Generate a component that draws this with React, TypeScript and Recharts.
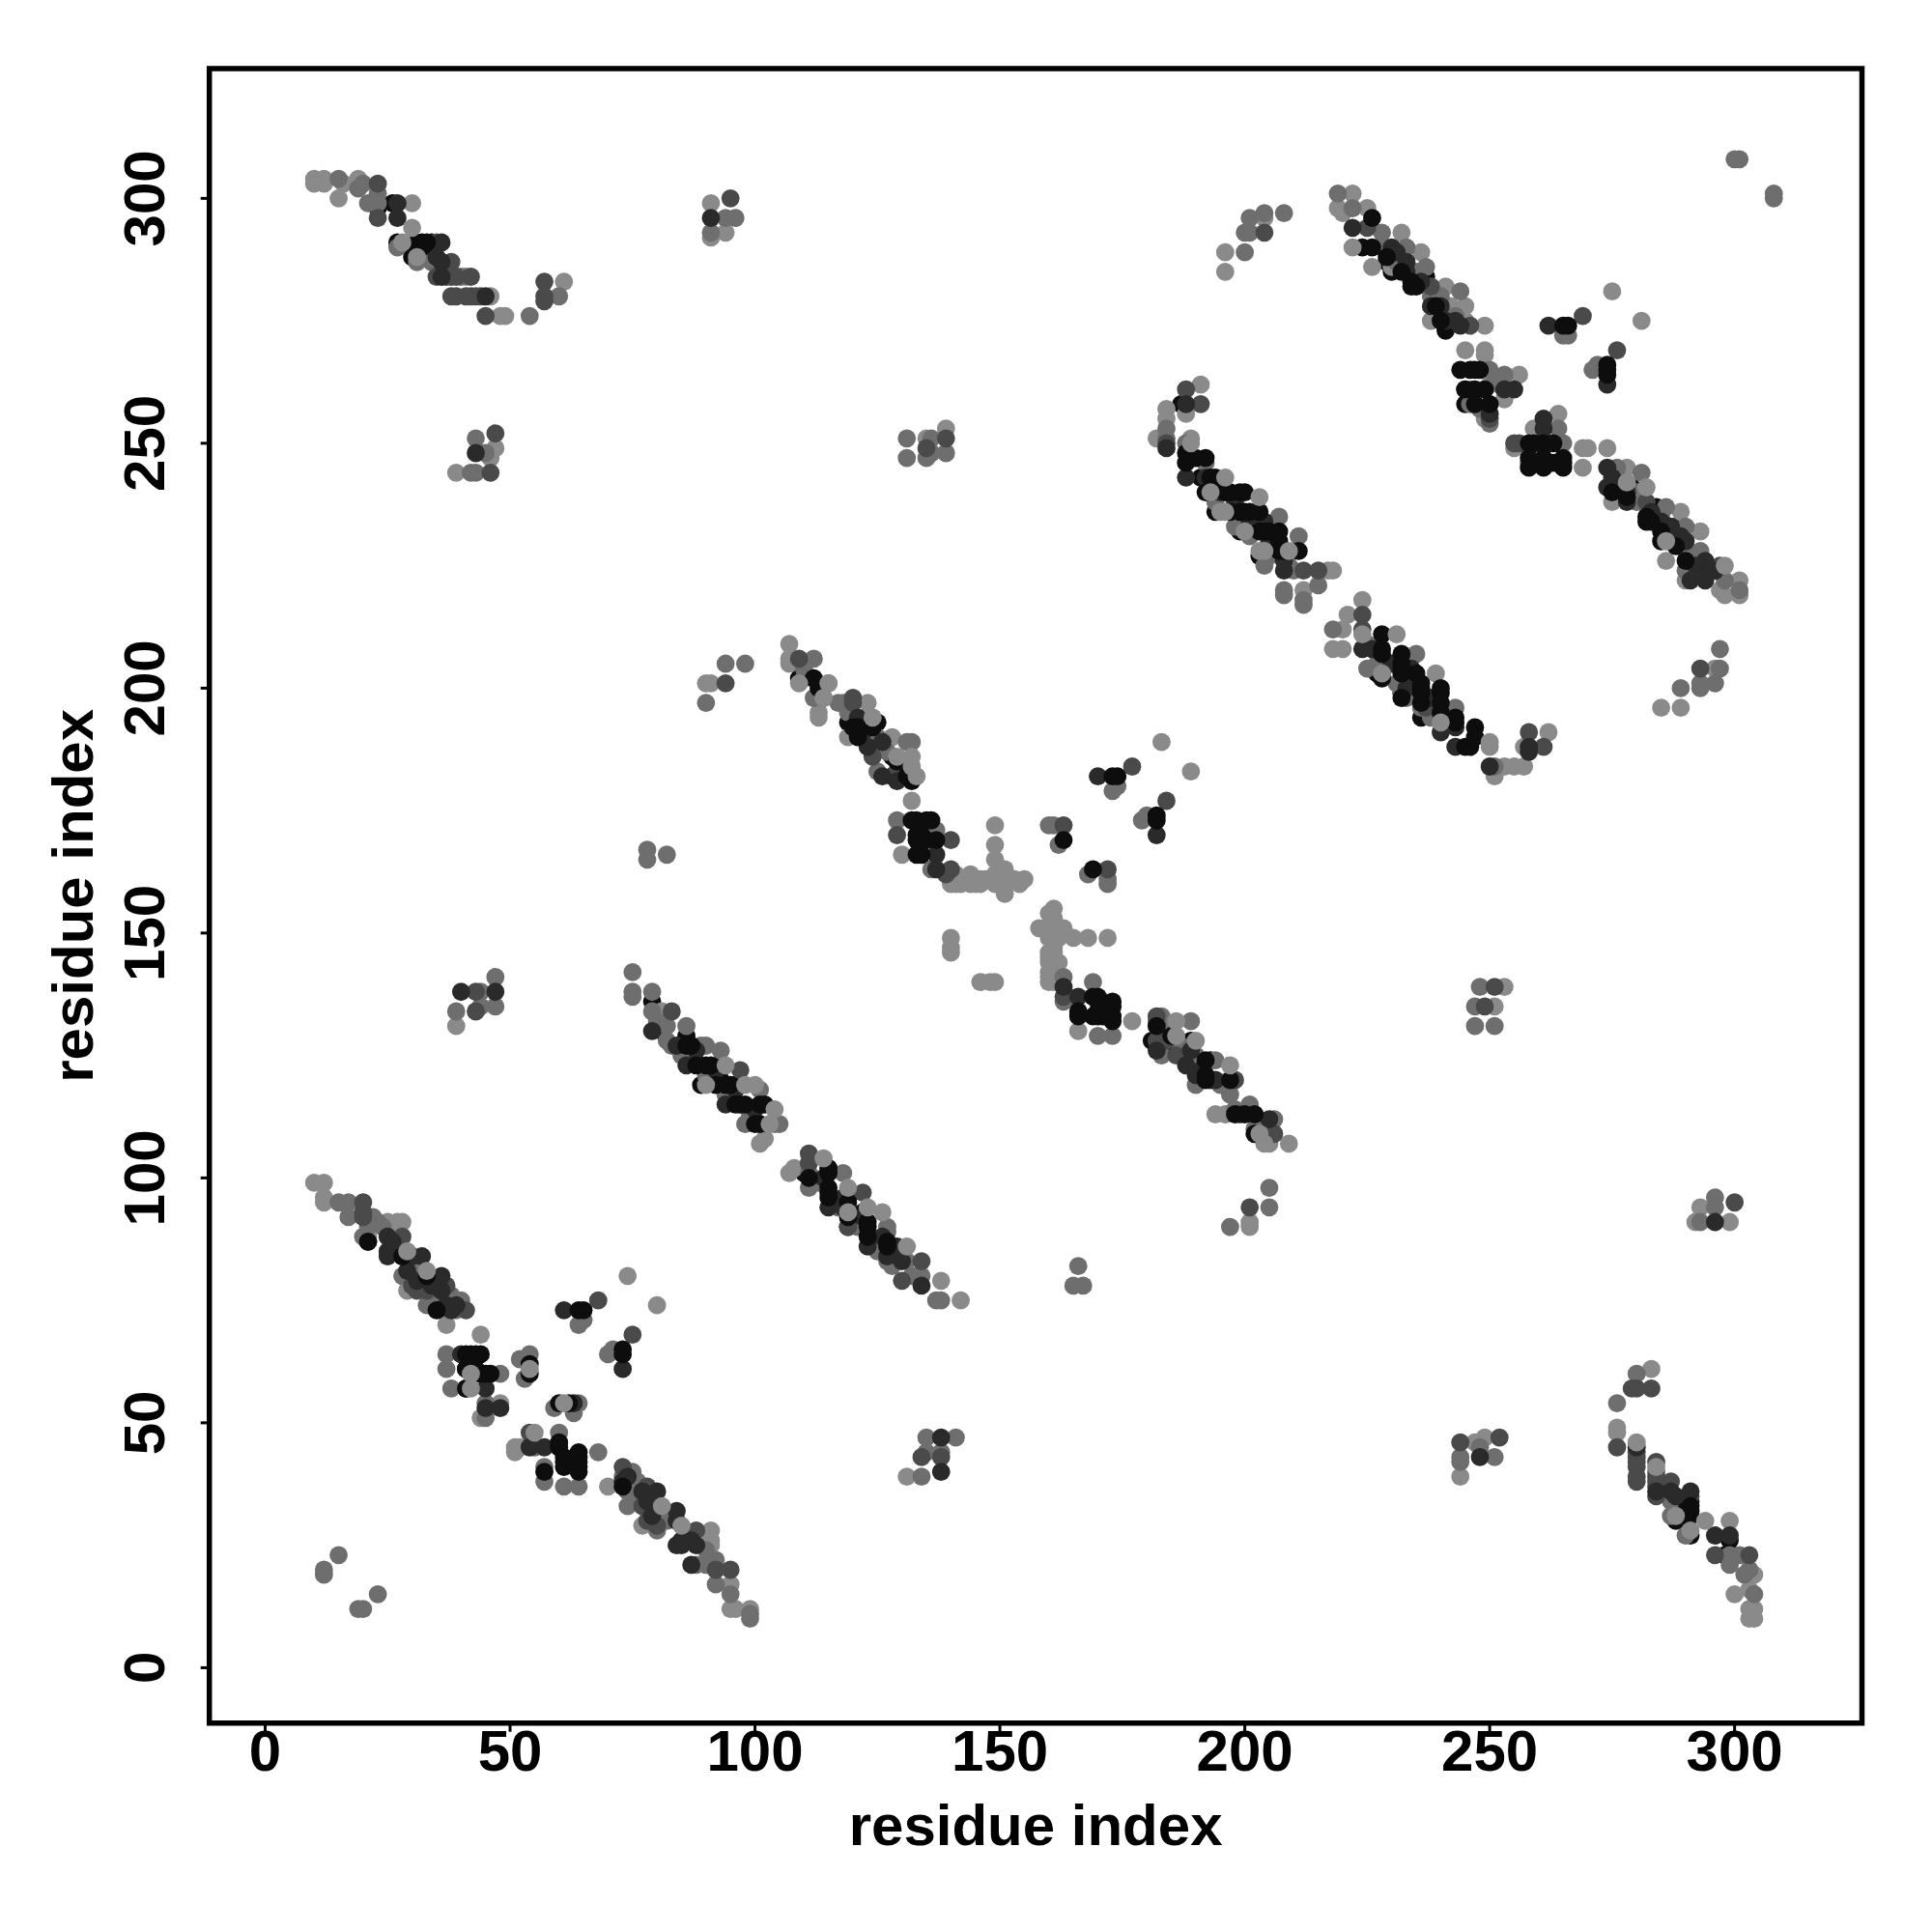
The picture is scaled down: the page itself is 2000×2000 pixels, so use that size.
import { ReferenceArea, Scatter, ScatterChart, XAxis, YAxis } from 'recharts'

type Pair = [number, number]

const TICKS = [0, 50, 100, 150, 200, 250, 300]
const X_RANGE: Pair = [-11.4, 326]
const Y_RANGE: Pair = [-11.3, 326.5]

// contact pairs, one list per grey level (back to front)
const blackUnder: Pair[] = [
  [23, 298], [26, 299], [27, 291], [30, 288], [34, 291], [298, 23], [299, 26], [291, 27], [288, 30], [291, 34],
  [79, 136], [81, 130], [86, 129], [89, 123], [93, 123], [89, 119], [93, 120], [96, 119], [110, 101], [119, 96],
  [122, 93], [119, 90], [109, 202], [187, 258], [194, 240], [191, 243], [194, 236], [199, 232], [204, 228], [203, 227],
  [236, 194], [232, 199], [228, 204], [227, 203], [224, 290], [230, 285], [234, 282], [237, 284], [241, 273], [229, 287],
  [284, 237], [279, 241], [288, 233], [285, 230], [244, 265], [245, 261], [245, 258], [181, 128], [186, 127], [189, 128],
  [193, 124], [128, 186], [128, 182], [119, 193], [125, 193], [41, 57], [41, 61], [36, 73], [21, 87], [28, 84],
]

const lightGrey: Pair[] = [
  [10, 304], [10, 303], [12, 304], [12, 303], [16, 303], [15, 300], [19, 304], [30, 299], [41, 284], [46, 280],
  [48, 276], [49, 276], [61, 283],
  [304, 10], [303, 10], [304, 12], [303, 12], [303, 16], [300, 15], [304, 19], [299, 30], [276, 48], [276, 49], [283, 61],
  [196, 285], [196, 289], [204, 296], [285, 196], [289, 196], [296, 204],
  [222, 301], [219, 298], [225, 298], [220, 297], [232, 293], [222, 290], [236, 289], [230, 286], [226, 286], [241, 282],
  [242, 278], [245, 278], [238, 275], [245, 275], [249, 274],
  [278, 245], [275, 238], [289, 236], [293, 232], [286, 226], [290, 222],
  [301, 222], [297, 220], [298, 219], [301, 219], [274, 249],
  [245, 269], [249, 269], [249, 268], [256, 264], [246, 261], [250, 262], [253, 259], [249, 255],
  [264, 256], [255, 249], [262, 250], [269, 249], [270, 249], [269, 245], [261, 246], [259, 253],
  [275, 281], [281, 275],
  [191, 262], [188, 256], [184, 257], [184, 255], [182, 251], [189, 251], [217, 224], [218, 224], [212, 220],
  [224, 218], [221, 215], [220, 212], [218, 208], [220, 208], [239, 203],
  [253, 184], [255, 184], [257, 184], [251, 182], [262, 191], [257, 188],
  [107, 209], [107, 206], [107, 205], [113, 195], [113, 194], [123, 197], [128, 190], [119, 190],
  [197, 119], [194, 113], [196, 113], [205, 107], [209, 107],
  [132, 177], [130, 166], [166, 130], [177, 132],
  [140, 161], [140, 160], [141, 162], [141, 161], [141, 160], [142, 161], [142, 160], [144, 162], [144, 160], [145, 161],
  [145, 160], [146, 161], [146, 160], [147, 161], [149, 172], [149, 168], [149, 165], [149, 162], [149, 160], [151, 163],
  [151, 160], [151, 158], [154, 160], [155, 161], [153, 161], [150, 161],
  [161, 140], [160, 140], [162, 141], [161, 141], [160, 141], [161, 142], [160, 142], [162, 144], [160, 144], [161, 145],
  [160, 145], [161, 146], [160, 146], [161, 147], [172, 149], [168, 149], [165, 149], [162, 149], [160, 149], [163, 151],
  [160, 151], [158, 151], [160, 154], [161, 155], [161, 153], [161, 150],
  [140, 149], [140, 147], [140, 146], [146, 140], [148, 140], [149, 140],
  [183, 189], [189, 183], [74, 80], [80, 74],
  [81, 134], [101, 107], [102, 108],
  [107, 101], [108, 102], [138, 79], [142, 75],
  [10, 99], [12, 99], [12, 95], [12, 96], [25, 91], [27, 91], [28, 91], [21, 88], [29, 77], [37, 70],
  [44, 68], [44, 51], [48, 54],
  [95, 17], [95, 12], [96, 12], [91, 28], [91, 26], [91, 25], [77, 29], [70, 37], [99, 12],
  [51, 45], [51, 44], [52, 45],
  [91, 299], [91, 292], [94, 293], [299, 91], [292, 91], [293, 94],
  [39, 244], [46, 247], [47, 249], [244, 39], [247, 46], [249, 47],
  [135, 251], [139, 253], [251, 135], [253, 139],
  [39, 131], [131, 39], [90, 201], [91, 201], [201, 90], [201, 91],
]

const midGrey: Pair[] = [
  [15, 304], [19, 302], [20, 303], [23, 301], [21, 299], [23, 299], [27, 290], [34, 287], [31, 287], [54, 276], [60, 280],
  [31, 290], [34, 288], [35, 287], [40, 284],
  [304, 15], [302, 19], [303, 20], [301, 23], [299, 21], [299, 23], [290, 27], [287, 34], [287, 31], [276, 54], [280, 60],
  [290, 31], [288, 34], [287, 35], [284, 40],
  [200, 289], [200, 293], [201, 293], [201, 296], [204, 297], [208, 297], [289, 200], [293, 200], [293, 201], [296, 201],
  [297, 204], [297, 208],
  [219, 301], [222, 298], [228, 293], [233, 290], [237, 286], [244, 281], [228, 290], [231, 287], [235, 285], [238, 280],
  [240, 280], [243, 276],
  [301, 220], [298, 222], [293, 228], [290, 224], [290, 233], [286, 237], [281, 244], [276, 245], [290, 228], [287, 231],
  [285, 235], [280, 238], [280, 240], [276, 243],
  [250, 265], [253, 264], [246, 258], [250, 254], [252, 262], [251, 263], [248, 257],
  [264, 253], [265, 250], [258, 246], [264, 250], [266, 272], [265, 272], [272, 266], [271, 265],
  [184, 253], [184, 251], [188, 250], [192, 246], [207, 235], [211, 231], [210, 224], [208, 220], [208, 219], [212, 218],
  [212, 217], [215, 221], [204, 225], [198, 233], [201, 231], [205, 227], [194, 238], [209, 225],
  [218, 212], [235, 207], [243, 196], [236, 196], [251, 184], [232, 199], [225, 204], [233, 198], [231, 201], [227, 205],
  [238, 194], [225, 209],
  [112, 206], [115, 201], [112, 198], [114, 198], [118, 197], [124, 194], [125, 190], [132, 189], [131, 189], [125, 183],
  [110, 204], [110, 202], [117, 197], [119, 195], [123, 191], [127, 187], [130, 184],
  [182, 132], [183, 133], [189, 132], [183, 125], [190, 125], [189, 125], [194, 124], [198, 114], [201, 115], [206, 112],
  [190, 119], [204, 110], [202, 110], [197, 117], [195, 119], [191, 123], [187, 127], [184, 130],
  [137, 171], [136, 163], [129, 173], [163, 141], [164, 137], [163, 136], [169, 140], [171, 136], [170, 129], [173, 129],
  [161, 172], [162, 168], [168, 162], [172, 161], [172, 160], [160, 172],
  [173, 179], [174, 180], [180, 174], [179, 173], [64, 70], [65, 71], [71, 65], [70, 64],
  [75, 142], [75, 138], [75, 137], [79, 138], [79, 134], [86, 131], [89, 127], [90, 127], [93, 126], [83, 127], [82, 131],
  [98, 111], [104, 111], [105, 111], [101, 118], [85, 125], [90, 121], [94, 117], [99, 113], [80, 132], [82, 128], [87, 124],
  [111, 98], [111, 101], [118, 101], [127, 90], [127, 89], [131, 83], [134, 80], [137, 75], [138, 75], [127, 83],
  [125, 85], [121, 90], [117, 94], [113, 99], [132, 80], [128, 82], [124, 87],
  [15, 95], [17, 95], [17, 92], [23, 91], [20, 88], [28, 80], [33, 74], [40, 75], [37, 64], [37, 61], [38, 57], [45, 51],
  [45, 54], [48, 60], [22, 92], [24, 90], [21, 90], [30, 82], [31, 80], [34, 79], [35, 75], [38, 76], [39, 73],
  [99, 10], [99, 11], [92, 17], [95, 15], [91, 21], [88, 21], [80, 28], [75, 40], [74, 33], [74, 36], [61, 37], [64, 37],
  [57, 38], [57, 41], [68, 44], [55, 45], [60, 48], [92, 22], [90, 24], [90, 21], [82, 30], [80, 31], [79, 34], [75, 35],
  [76, 38], [73, 39],
  [52, 63], [54, 64], [53, 59], [63, 52], [64, 54], [59, 53],
  [12, 19], [12, 20], [19, 12], [20, 12], [15, 23], [23, 15],
  [94, 296], [96, 296], [91, 293], [296, 94], [296, 96], [293, 91],
  [42, 244], [43, 244], [43, 251], [45, 248], [244, 42], [244, 43], [251, 43], [248, 45],
  [131, 251], [131, 247], [135, 247], [139, 248], [136, 248], [136, 251], [251, 131], [247, 131], [247, 135], [248, 139],
  [39, 134], [47, 141], [47, 135], [44, 135], [44, 138], [134, 39], [141, 47], [135, 47], [135, 44], [138, 44],
  [78, 167], [78, 165], [82, 166], [167, 78], [165, 78], [166, 82],
  [90, 197], [94, 205], [98, 205], [197, 90], [205, 94], [205, 98],
  [300, 308], [301, 308], [308, 301], [308, 300],
]

const darkGrey: Pair[] = [
  [23, 303], [23, 296], [35, 291], [38, 287], [35, 284], [38, 284], [42, 284], [38, 280], [41, 280], [42, 280], [45, 276],
  [57, 283], [57, 280], [57, 279], [37, 284], [39, 284], [39, 280], [43, 280], [44, 280],
  [303, 23], [296, 23], [291, 35], [287, 38], [284, 35], [284, 38], [284, 42], [280, 38], [280, 41], [280, 42], [276, 45],
  [283, 57], [280, 57], [279, 57], [284, 37], [284, 39], [280, 39], [280, 43], [280, 44],
  [204, 293], [293, 204], [225, 294], [238, 282], [246, 274], [282, 238], [297, 225], [288, 230],
  [250, 255], [256, 250], [255, 250], [269, 276], [276, 269],
  [188, 261], [191, 258], [212, 224], [215, 224], [184, 250],
  [224, 212], [224, 215], [237, 196], [258, 191], [261, 188],
  [109, 206], [120, 198], [120, 197], [124, 186], [129, 183],
  [182, 133], [182, 128], [184, 128], [186, 125], [198, 120], [199, 113], [206, 109],
  [129, 170], [140, 169], [140, 163], [139, 162], [163, 137],
  [163, 172], [172, 163], [177, 184], [184, 177], [68, 75], [75, 68],
  [83, 134], [97, 122], [111, 105], [111, 103], [122, 97], [134, 83], [119, 90], [130, 79],
  [20, 95], [20, 93], [20, 92], [28, 88], [33, 77], [31, 77], [41, 73], [27, 86], [30, 78], [33, 78], [37, 78],
  [95, 20], [92, 20], [88, 28], [73, 41], [77, 33], [80, 29], [54, 48], [86, 27], [78, 30], [78, 33], [78, 37],
  [95, 300], [300, 95], [47, 252], [46, 244], [252, 47], [244, 46], [135, 249], [139, 251], [249, 135], [251, 139],
  [43, 134], [134, 43], [43, 138], [138, 43], [94, 201], [201, 94],
]

const nearBlack: Pair[] = [
  [27, 299], [27, 296], [35, 288], [45, 280], [299, 27], [296, 27], [288, 35], [280, 45],
  [36, 287], [36, 284], [36, 291], [287, 36], [284, 36], [291, 36],
  [222, 294], [230, 290], [230, 289], [233, 285], [238, 278], [241, 275], [244, 274], [231, 289], [233, 287], [236, 283],
  [240, 278], [243, 275],
  [274, 245], [274, 241], [278, 238], [285, 234], [290, 230], [294, 226], [294, 224], [294, 222], [289, 231], [287, 233],
  [283, 236], [278, 240], [275, 243], [291, 222], [296, 224], [292, 225],
  [253, 261], [255, 261], [250, 256], [261, 255], [261, 253], [262, 274], [274, 262],
  [188, 258], [184, 249], [188, 243], [192, 243], [208, 224], [195, 240], [198, 238], [201, 234], [205, 230], [208, 226],
  [204, 234],
  [224, 208], [233, 200], [240, 191], [243, 192], [243, 188], [250, 184], [258, 188], [258, 187], [240, 195], [238, 198],
  [234, 201], [230, 205], [226, 208], [234, 204],
  [121, 194], [129, 181], [121, 193], [122, 191], [126, 189], [123, 188], [126, 182],
  [194, 120], [193, 120], [190, 121], [205, 112], [191, 122], [189, 126], [188, 123], [182, 126],
  [137, 166], [137, 163], [163, 139], [166, 137], [170, 182], [182, 170], [61, 73], [73, 61],
  [79, 130], [86, 123], [94, 115], [84, 127], [88, 126], [92, 122], [96, 118], [100, 114],
  [115, 94], [123, 86], [118, 94], [129, 86], [130, 83], [134, 78], [127, 84], [126, 88], [122, 92], [118, 96], [114, 100],
  [25, 88], [25, 85], [25, 84], [32, 84], [29, 81], [36, 80], [36, 77], [37, 74], [40, 64], [45, 57], [45, 53], [48, 53],
  [26, 87], [26, 85], [30, 84], [31, 79], [34, 78], [38, 73], [39, 74],
  [88, 25], [85, 25], [84, 25], [84, 32], [80, 36], [77, 36], [87, 21], [57, 45], [54, 45], [63, 54],
  [87, 26], [85, 26], [84, 30], [79, 31], [78, 34], [73, 38], [74, 39],
  [91, 296], [296, 91], [43, 248], [248, 43], [40, 138], [47, 138], [138, 40], [138, 47],
]

const black: Pair[] = [
  [31, 291], [31, 290], [32, 291], [32, 290], [33, 291], [291, 31], [290, 31], [291, 32], [290, 32], [291, 33],
  [226, 296], [226, 290], [290, 226], [282, 234],
  [229, 288], [232, 285], [235, 282], [234, 283], [239, 278], [240, 275],
  [288, 229], [285, 232], [282, 235], [283, 234], [278, 239], [275, 240],
  [246, 265], [248, 265], [245, 261], [249, 261], [250, 258], [247, 261], [247, 258], [247, 265],
  [258, 250], [261, 250], [261, 245], [258, 245], [265, 245], [265, 246], [261, 247], [258, 247], [265, 247], [259, 250],
  [263, 250], [263, 246],
  [265, 274], [266, 274], [274, 266], [274, 265], [274, 264],
  [188, 248], [188, 246], [192, 247], [192, 240], [196, 240], [199, 240], [199, 236], [203, 236], [203, 232], [207, 232],
  [207, 230], [207, 228], [211, 228], [190, 247], [193, 243], [194, 243], [197, 240], [200, 240], [197, 236], [200, 236],
  [201, 236], [204, 232], [205, 232], [208, 228],
  [228, 211], [228, 207], [232, 207], [228, 202], [232, 203], [235, 203], [240, 199], [236, 199], [232, 198], [240, 195],
  [247, 192], [246, 188], [245, 188], [247, 190], [243, 193], [243, 194], [240, 197], [240, 200], [236, 197], [236, 200],
  [236, 201], [232, 204], [232, 205], [228, 208],
  [112, 202], [121, 190], [132, 181], [120, 192], [121, 192], [124, 192], [113, 200], [131, 182], [129, 185],
  [197, 120], [198, 113], [202, 113], [202, 109], [192, 120], [192, 121], [192, 124], [200, 113], [182, 131], [185, 129],
  [132, 173], [133, 173], [136, 173], [133, 170], [133, 169], [137, 169], [135, 169], [133, 166], [134, 170], [134, 166],
  [135, 173],
  [169, 137], [173, 136], [166, 133], [169, 133], [173, 133], [173, 132], [170, 134], [166, 134], [173, 135], [170, 133],
  [170, 137], [170, 136], [171, 133],
  [163, 169], [169, 163], [173, 182], [174, 182], [182, 174], [182, 173], [64, 73], [65, 73], [73, 65], [73, 64],
  [86, 127], [90, 123], [94, 119], [97, 115], [101, 115], [101, 111], [88, 123], [91, 123], [92, 119], [95, 119], [96, 115],
  [98, 115], [100, 111], [102, 115], [87, 127],
  [115, 101], [115, 97], [123, 90], [127, 86], [123, 88], [123, 91], [119, 92], [119, 95], [115, 96], [115, 98], [111, 100],
  [115, 102], [127, 87],
  [21, 87], [28, 84], [33, 80], [35, 73], [41, 64], [44, 64], [41, 61], [45, 60], [44, 60], [41, 57], [54, 62], [54, 60],
  [42, 61], [43, 61], [42, 64], [43, 64], [46, 60],
  [73, 37], [64, 41], [64, 40], [61, 41], [60, 45], [64, 44], [57, 40], [62, 54], [60, 54], [61, 42], [61, 43], [64, 42],
  [64, 43], [60, 46],
]

// light dots that sit in front of the dark runs
const lightOver: Pair[] = [
  [30, 294], [28, 291], [31, 288], [294, 30], [291, 28], [288, 31], [284, 41], [280, 46],
  [189, 250], [193, 240], [195, 236], [196, 236], [200, 232], [203, 228], [204, 228], [209, 228], [196, 243], [203, 239],
  [224, 211], [231, 211], [228, 203], [240, 193], [250, 189], [250, 188],
  [109, 201], [115, 201], [114, 198], [124, 194], [129, 186], [132, 186], [132, 184], [133, 182],
  [90, 119], [94, 123], [98, 119], [100, 119], [104, 114], [103, 111],
  [114, 104], [119, 98], [119, 93], [123, 94], [126, 93], [131, 86],
  [29, 85], [33, 81], [42, 60], [42, 57], [54, 61], [61, 54], [55, 48], [81, 33], [85, 29],
  [186, 129], [190, 128], [186, 132], [197, 123], [203, 109], [204, 107],
  [278, 242], [282, 241], [286, 230], [298, 225],
]

const LAYERS: { points: Pair[]; fill: string }[] = [
  { points: blackUnder, fill: '#0d0d0d' },
  { points: lightGrey, fill: '#8a8a8a' },
  { points: midGrey, fill: '#6e6e6e' },
  { points: darkGrey, fill: '#4a4a4a' },
  { points: nearBlack, fill: '#2a2a2a' },
  { points: black, fill: '#0d0d0d' },
  { points: lightOver, fill: '#8a8a8a' },
]

const FONT = '"Liberation Sans", Arial, sans-serif'

const XTick = ({ x, y, payload }: any) => (
  <text x={x} y={y + 38} textAnchor="middle" fontFamily={FONT} fontWeight={700} fontSize={60} fill="#000">
    {payload.value}
  </text>
)

const YTick = ({ x, y, payload }: any) => (
  <text
    transform={`translate(${x - 36},${y}) rotate(-90)`}
    textAnchor="middle"
    fontFamily={FONT}
    fontWeight={700}
    fontSize={60}
    fill="#000"
  >
    {payload.value}
  </text>
)

export default function App() {
  return (
    <div style={{ position: 'absolute', left: 0, top: 0, width: 2000, height: 2000, background: '#fff' }}>
      <ScatterChart width={2000} height={2000} margin={{ top: 71, right: 72.5, bottom: 0, left: 0 }}>
        <XAxis
          type="number"
          dataKey="x"
          domain={X_RANGE}
          ticks={TICKS}
          interval={0}
          height={216.3}
          axisLine={false}
          tickSize={9}
          tickLine={{ stroke: '#000', strokeWidth: 3 }}
          tick={<XTick />}
          allowDataOverflow
          label={{
            value: 'residue index',
            position: 'insideTop',
            offset: 84,
            style: { fontFamily: FONT, fontWeight: 700, fontSize: 60, fill: '#000' },
          }}
        />
        <YAxis
          type="number"
          dataKey="y"
          domain={Y_RANGE}
          ticks={TICKS}
          interval={0}
          width={216.7}
          axisLine={false}
          tickSize={9}
          tickLine={{ stroke: '#000', strokeWidth: 3 }}
          tick={<YTick />}
          allowDataOverflow
          label={{
            value: 'residue index',
            angle: -90,
            position: 'insideLeft',
            offset: 75,
            style: { fontFamily: FONT, fontWeight: 700, fontSize: 60, fill: '#000', textAnchor: 'middle' },
          }}
        />
        {LAYERS.map((layer, i) => (
          <Scatter
            key={i}
            data={layer.points.map(([x, y]) => ({ x, y }))}
            isAnimationActive={false}
            shape={(p: any) => <circle cx={p.cx} cy={p.cy} r={9.4} fill={layer.fill} />}
          />
        ))}
        <ReferenceArea
          x1={X_RANGE[0]}
          x2={X_RANGE[1]}
          y1={Y_RANGE[0]}
          y2={Y_RANGE[1]}
          fill="none"
          stroke="#000"
          strokeWidth={5.5}
          ifOverflow="visible"
        />
      </ScatterChart>
    </div>
  )
}
